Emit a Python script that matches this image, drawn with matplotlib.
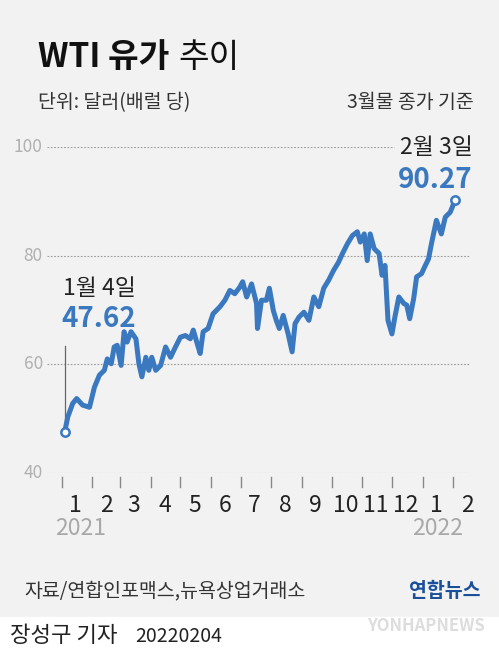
import datetime as dt

import matplotlib.pyplot as plt
from matplotlib.patches import Rectangle

plt.rcParams['font.family'] = ['Noto Sans CJK KR', 'DejaVu Sans']

# ---- data -----------------------------------------------------------------
START = dt.date(2021, 1, 4)
day_offsets = [0, 3, 8, 12, 18, 25, 30, 35, 40, 43, 47, 50, 53, 57, 60, 63, 67, 72,
               75, 78, 82, 85, 88, 92, 97, 102, 107, 112, 117, 122, 127, 130, 134,
               137, 140, 145, 150, 157, 162, 167, 172, 177, 180, 184, 189, 194, 195,
               199, 204, 207, 211, 214, 217, 221, 226, 230, 233, 237, 242, 247, 252,
               257, 262, 267, 272, 277, 281, 286, 291, 296, 299, 303, 306, 309, 313,
               318, 321, 324, 327, 331, 334, 338, 343, 346, 349, 353, 356, 361, 364,
               368, 371, 376, 381, 385, 390, 395]
prices = [47.62, 50.3, 52.8, 53.7, 52.5, 52.1, 55.8, 58.0, 58.9, 61.0, 60.1, 63.2,
          63.5, 59.8, 66.0, 64.1, 66.0, 64.7, 60.1, 57.7, 61.3, 58.9, 61.3, 58.9,
          59.8, 63.2, 61.3, 63.2, 65.0, 65.3, 64.7, 66.3, 63.8, 62.0, 66.0, 66.6,
          69.3, 70.6, 71.8, 73.6, 73.0, 74.2, 75.2, 72.4, 74.8, 71.2, 66.6, 71.8,
          71.8, 74.0, 69.9, 68.1, 66.6, 69.0, 65.6, 62.3, 67.5, 68.7, 69.6, 68.1,
          72.4, 70.6, 74.0, 75.5, 77.3, 78.8, 80.4, 82.2, 83.7, 84.4, 82.5, 84.0,
          79.1, 84.0, 81.3, 80.4, 76.4, 78.2, 68.1, 65.6, 68.7, 72.4, 71.2, 70.9,
          68.4, 72.1, 76.1, 76.7, 77.9, 79.4, 82.2, 86.5, 84.0, 87.1, 88.0, 90.27]
month_labels = ['1', '2', '3', '4', '5', '6', '7', '8', '9', '10', '11', '12', '1', '2']
y_ticks = [40, 60, 80, 100]

BLUE = '#3a78c0'
BG = '#f2f2f2'

dates = [START + dt.timedelta(days=d) for d in day_offsets]

fig = plt.figure(figsize=(4.99, 6.6), dpi=100)
fig.patch.set_facecolor(BG)
fig.add_artist(Rectangle((0, 0), 1, 1 - 617 / 660, transform=fig.transFigure,
                         color='white', zorder=0))

ax = fig.add_axes([47 / 499, 1 - 473 / 660, (470 - 47) / 499, (473 - 147) / 660])
ax.set_facecolor('none')
ax.set_xlim(dt.date(2020, 12, 17), dt.date(2022, 2, 18))
ax.set_ylim(40, 100)
for s in ax.spines.values():
    s.set_visible(False)
ax.set_xticks([])
ax.set_yticks([])

# grid lines + y labels
for v in y_ticks:
    xmax = 0.82 if v == 100 else 1.0
    ax.axhline(v, xmin=0.0, xmax=xmax, color='#9a9a9a', lw=0.8, ls=(0, (1.5, 1.5)), zorder=1)
    ax.text(-0.01, v, str(v), transform=ax.get_yaxis_transform(), ha='right', va='center',
            fontsize=12.5, fontweight='light', color='#b0b0b0')

# month ticks and labels
month_starts = [dt.date(2021 + (m // 12), m % 12 + 1, 1) for m in range(14)]
for i, ms in enumerate(month_starts):
    ax.plot([ms, ms], [39.3, 37.4], color='#888888', lw=1.0, clip_on=False, zorder=5)
    mid = ms + dt.timedelta(days=14)
    ax.text(mid, 34.0, month_labels[i], ha='center', va='center', fontsize=16.5,
            fontweight='light', color='#222222')
ax.text(dt.date(2021, 1, 20), 29.7, '2021', ha='center', va='center', fontsize=16.5,
        fontweight='light', color='#a8a8a8')
ax.text(dt.date(2022, 1, 16), 29.7, '2022', ha='center', va='center', fontsize=16.5,
        fontweight='light', color='#a8a8a8')

# price line
ax.plot(dates, prices, color=BLUE, lw=3.6, solid_joinstyle='round', zorder=3)
for d, p in [(dates[0], prices[0]), (dates[-1], prices[-1])]:
    ax.plot(d, p, 'o', ms=6, mfc='white', mec=BLUE, mew=1.8, zorder=4)

# annotations
ax.plot([dates[0], dates[0]], [prices[0] + 1, 63.3], color='#666666', lw=0.9, zorder=2)
ax.text(dates[0] - dt.timedelta(days=2), 74.0, '1월 4일', ha='left', va='center', fontsize=16.5,
        fontweight='light', color='#222222')
ax.text(dates[0] - dt.timedelta(days=3), 68.4, '47.62', ha='left', va='center', fontsize=20,
        fontweight='bold', color=BLUE)
ax.text(dates[-1] + dt.timedelta(days=18), 100.0, '2월 3일', ha='right', va='center', fontsize=16.5,
        fontweight='light', color='#222222')
ax.text(dates[-1] + dt.timedelta(days=18), 94.0, '90.27', ha='right', va='center', fontsize=20,
        fontweight='bold', color=BLUE)

# header
fig.text(38 / 499, 1 - 58 / 660, 'WTI 유가', fontsize=24, fontweight='bold', color='#111111', va='center')
fig.text(178 / 499, 1 - 58 / 660, '추이', fontsize=24, color='#111111', va='center')
fig.text(38 / 499, 1 - 103 / 660, '단위: 달러(배럴 당)', fontsize=14, color='#333333', va='center')
fig.text(474 / 499, 1 - 103 / 660, '3월물 종가 기준', fontsize=14, color='#333333', va='center', ha='right')

# footer
fig.text(24 / 499, 1 - 591 / 660, '자료/연합인포맥스,뉴욕상업거래소', fontsize=14, color='#333333',
         va='center')
fig.text(480 / 499, 1 - 591 / 660, '연합뉴스', fontsize=14, fontweight='bold', color='#1a4f9c',
         va='center', ha='right')
fig.text(10 / 499, 1 - 636 / 660, '장성구 기자', fontsize=16, fontweight='medium', color='#222222', va='center')
fig.text(135 / 499, 1 - 636 / 660, '20220204', fontsize=14, color='#222222', va='center')
fig.text(485 / 499, 1 - 626 / 660, 'YONHAPNEWS', fontsize=12, fontweight='bold', color='#dddddd',
         va='center', ha='right', style='italic')

fig.savefig('out.png', dpi=100, facecolor=fig.get_facecolor())
